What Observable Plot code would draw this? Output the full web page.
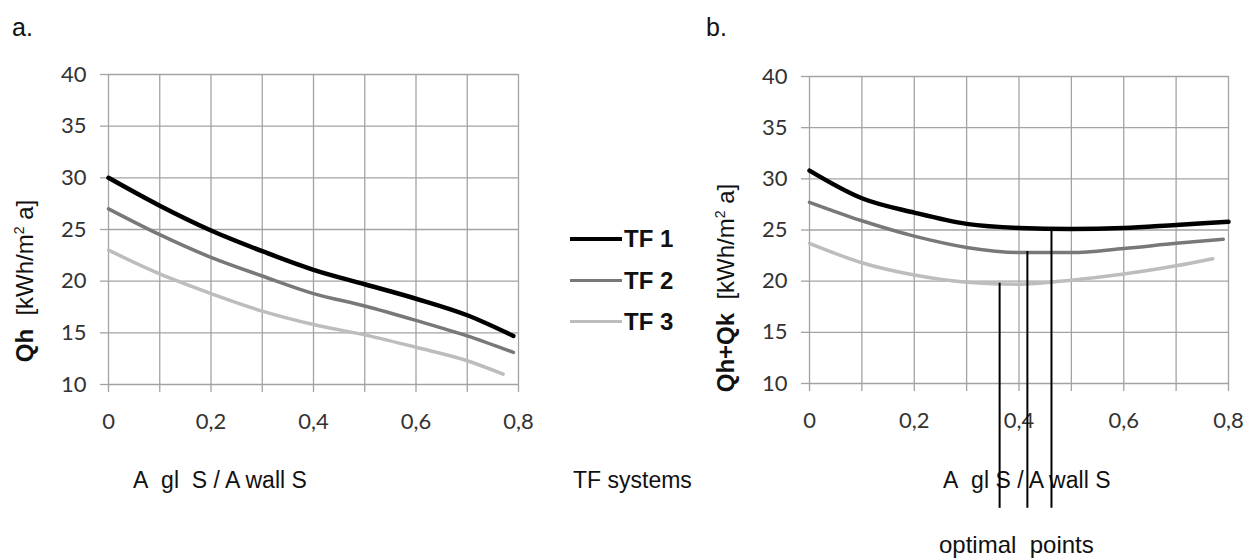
<!DOCTYPE html>
<html><head><meta charset="utf-8">
<script src="https://cdn.jsdelivr.net/npm/d3@7"></script>
<script src="https://cdn.jsdelivr.net/npm/@observablehq/plot@0.6"></script>
<style>
body{margin:0;background:#fff;}
#wrap{position:relative;width:1248px;height:560px;overflow:hidden;background:#fff;font-family:"Liberation Sans",Arial,sans-serif;}
.t{position:absolute;white-space:nowrap;color:#111;line-height:1;}
.narrow{font-family:"Liberation Sans Narrow","Arial Narrow","Liberation Sans",sans-serif;}
.plot{position:absolute;top:0;z-index:2;}
.plot text{font-size:22px;}
.ylab{position:absolute;white-space:nowrap;transform:translate(-50%,-50%) rotate(-90deg);font-size:24px;color:#111;line-height:1;}
.leg{position:absolute;height:0;}
</style></head><body><div id="wrap"></div>
<script>
// ---- data ----
const series = ["TF 1", "TF 2", "TF 3"];
const colors = ["#000000", "#787878", "#bdbdbd"];
const widths = [4.5, 3.5, 3.5];

// panel a: Qh
const xA1 = [0, 0.1, 0.2, 0.3, 0.4, 0.5, 0.6, 0.7, 0.79];
const yA1 = [30.0, 27.3, 24.9, 22.9, 21.1, 19.7, 18.3, 16.7, 14.7];
const xA2 = [0, 0.1, 0.2, 0.3, 0.4, 0.5, 0.6, 0.7, 0.79];
const yA2 = [27.0, 24.5, 22.3, 20.5, 18.8, 17.6, 16.2, 14.7, 13.1];
const xA3 = [0, 0.1, 0.2, 0.3, 0.4, 0.5, 0.6, 0.7, 0.77];
const yA3 = [23.0, 20.7, 18.8, 17.1, 15.8, 14.8, 13.6, 12.3, 11.0];

// panel b: Qh+Qk
const xB1 = [0, 0.1, 0.2, 0.3, 0.4, 0.5, 0.6, 0.7, 0.8];
const yB1 = [30.8, 28.1, 26.7, 25.6, 25.2, 25.1, 25.2, 25.5, 25.8];
const xB2 = [0, 0.1, 0.2, 0.3, 0.4, 0.5, 0.6, 0.7, 0.79];
const yB2 = [27.7, 25.9, 24.4, 23.3, 22.8, 22.8, 23.2, 23.7, 24.1];
const xB3 = [0, 0.1, 0.2, 0.3, 0.4, 0.5, 0.6, 0.7, 0.77];
const yB3 = [23.7, 21.8, 20.6, 19.9, 19.7, 20.1, 20.7, 21.5, 22.2];

// optimal points (panel b)
const optX = [0.363, 0.416, 0.462];
const optTop = [19.8, 22.9, 25.1];
const optBottom = -2.2;

// axes
const xGrid = [0, 0.1, 0.2, 0.3, 0.4, 0.5, 0.6, 0.7, 0.8];
const xTickValues = [0, 0.2, 0.4, 0.6, 0.8];
const xTickLabels = ["0", "0,2", "0,4", "0,6", "0,8"];
const yTicks = [10, 15, 20, 25, 30, 35, 40];

// ---- build ----
const wrap = document.getElementById("wrap");
const gridColor = "#a3a3a3";

function table(xsList, ysList) {
  const rows = [];
  series.forEach((s, i) => xsList[i].forEach((x, j) => rows.push({s, i, x, y: ysList[i][j]})));
  return rows;
}
function labelFor(d) {
  const k = xTickValues.findIndex(v => Math.abs(v - d) < 1e-9);
  return k >= 0 ? xTickLabels[k] : "";
}

function panel({rows, width, height, mL, mR, mT, mB, extra = []}) {
  return Plot.plot({
    width, height,
    marginLeft: mL, marginRight: mR, marginTop: mT, marginBottom: mB,
    x: {domain: [0, 0.8]},
    y: {domain: [10, 40]},
    style: {background: "transparent", overflow: "visible", fontFamily: "Lato, 'Open Sans', sans-serif", fontSize: "22px", color: "#333"},
    marks: [
      Plot.gridX(xGrid, {stroke: gridColor, strokeOpacity: 1, strokeWidth: 1.3}),
      Plot.gridY(yTicks, {stroke: gridColor, strokeOpacity: 1, strokeWidth: 1.3}),
      Plot.axisX(xGrid, {tickSize: 8, tickPadding: 21, stroke: gridColor, strokeWidth: 1.3, tickFormat: labelFor, label: null, fill: "#333", fontSize: 22}),
      Plot.axisY(yTicks, {tickSize: 8, tickPadding: 14, stroke: gridColor, strokeWidth: 1.3, label: null, fill: "#333", fontSize: 22}),
      ...series.map((s, i) => Plot.line(rows.filter(r => r.i === i), {
        x: "x", y: "y", stroke: colors[i], strokeWidth: widths[i], curve: "monotone-x"
      })),
      ...extra
    ]
  });
}

const pa = panel({
  rows: table([xA1, xA2, xA3], [yA1, yA2, yA3]),
  width: 540, height: 440, mL: 108, mR: 22, mT: 74, mB: 56
});
pa.classList.add("plot");
pa.style.left = "0px";
wrap.appendChild(pa);

const optRows = optX.map((x, i) => ({x, y1: optTop[i], y2: optBottom}));
const pb = panel({
  rows: table([xB1, xB2, xB3], [yB1, yB2, yB3]),
  width: 548, height: 530, mL: 109, mR: 20, mT: 76, mB: 147,
  extra: [Plot.ruleX(optRows, {x: "x", y1: "y1", y2: "y2", stroke: "#000", strokeWidth: 2})]
});
pb.classList.add("plot");
pb.style.left = "700px";
wrap.appendChild(pb);

// ---- text ----
function addText(html, x, y, cls, style) {
  const d = document.createElement("div");
  d.className = "t " + (cls || "");
  d.innerHTML = html;
  d.style.left = x + "px";
  d.style.top = y + "px";
  Object.assign(d.style, style || {});
  wrap.appendChild(d);
  return d;
}
addText("a.", 12, 15, "", {fontSize: "25px"});
addText("b.", 706, 15, "", {fontSize: "25px"});

function ylab(html, cx, cy) {
  const d = document.createElement("div");
  d.className = "ylab";
  d.innerHTML = html;
  d.style.left = cx + "px";
  d.style.top = cy + "px";
  wrap.appendChild(d);
}
ylab("<b>Qh</b>&nbsp; [kWh/m<sup style='font-size:14px;vertical-align:9px'>2</sup> a]", 24, 281);
ylab("<b>Qh+Qk</b>&nbsp; [kWh/m<sup style='font-size:14px;vertical-align:9px'>2</sup> a]", 725, 288);

// legend
const legY = [239, 281, 322];
series.forEach((s, i) => {
  const l = document.createElement("div");
  l.className = "leg";
  l.style.left = "570px";
  l.style.top = (legY[i] - widths[i] / 2) + "px";
  l.style.width = "52px";
  l.style.borderTop = widths[i] + "px solid " + colors[i];
  wrap.appendChild(l);
  addText(s, 624, legY[i] - 12, "narrow", {fontSize: "24px", fontWeight: "bold"});
});

addText("A&nbsp; gl&nbsp; S / A wall S", 133, 469, "narrow", {fontSize: "23px", zIndex: 1});
addText("TF systems", 573, 469, "narrow", {fontSize: "23px"});
addText("A&nbsp; gl S / A wall S", 943, 469, "narrow", {fontSize: "23px", zIndex: 1});
addText("optimal&nbsp; points", 939, 533, "", {fontSize: "24px", zIndex: 1});
</script>
</body></html>
